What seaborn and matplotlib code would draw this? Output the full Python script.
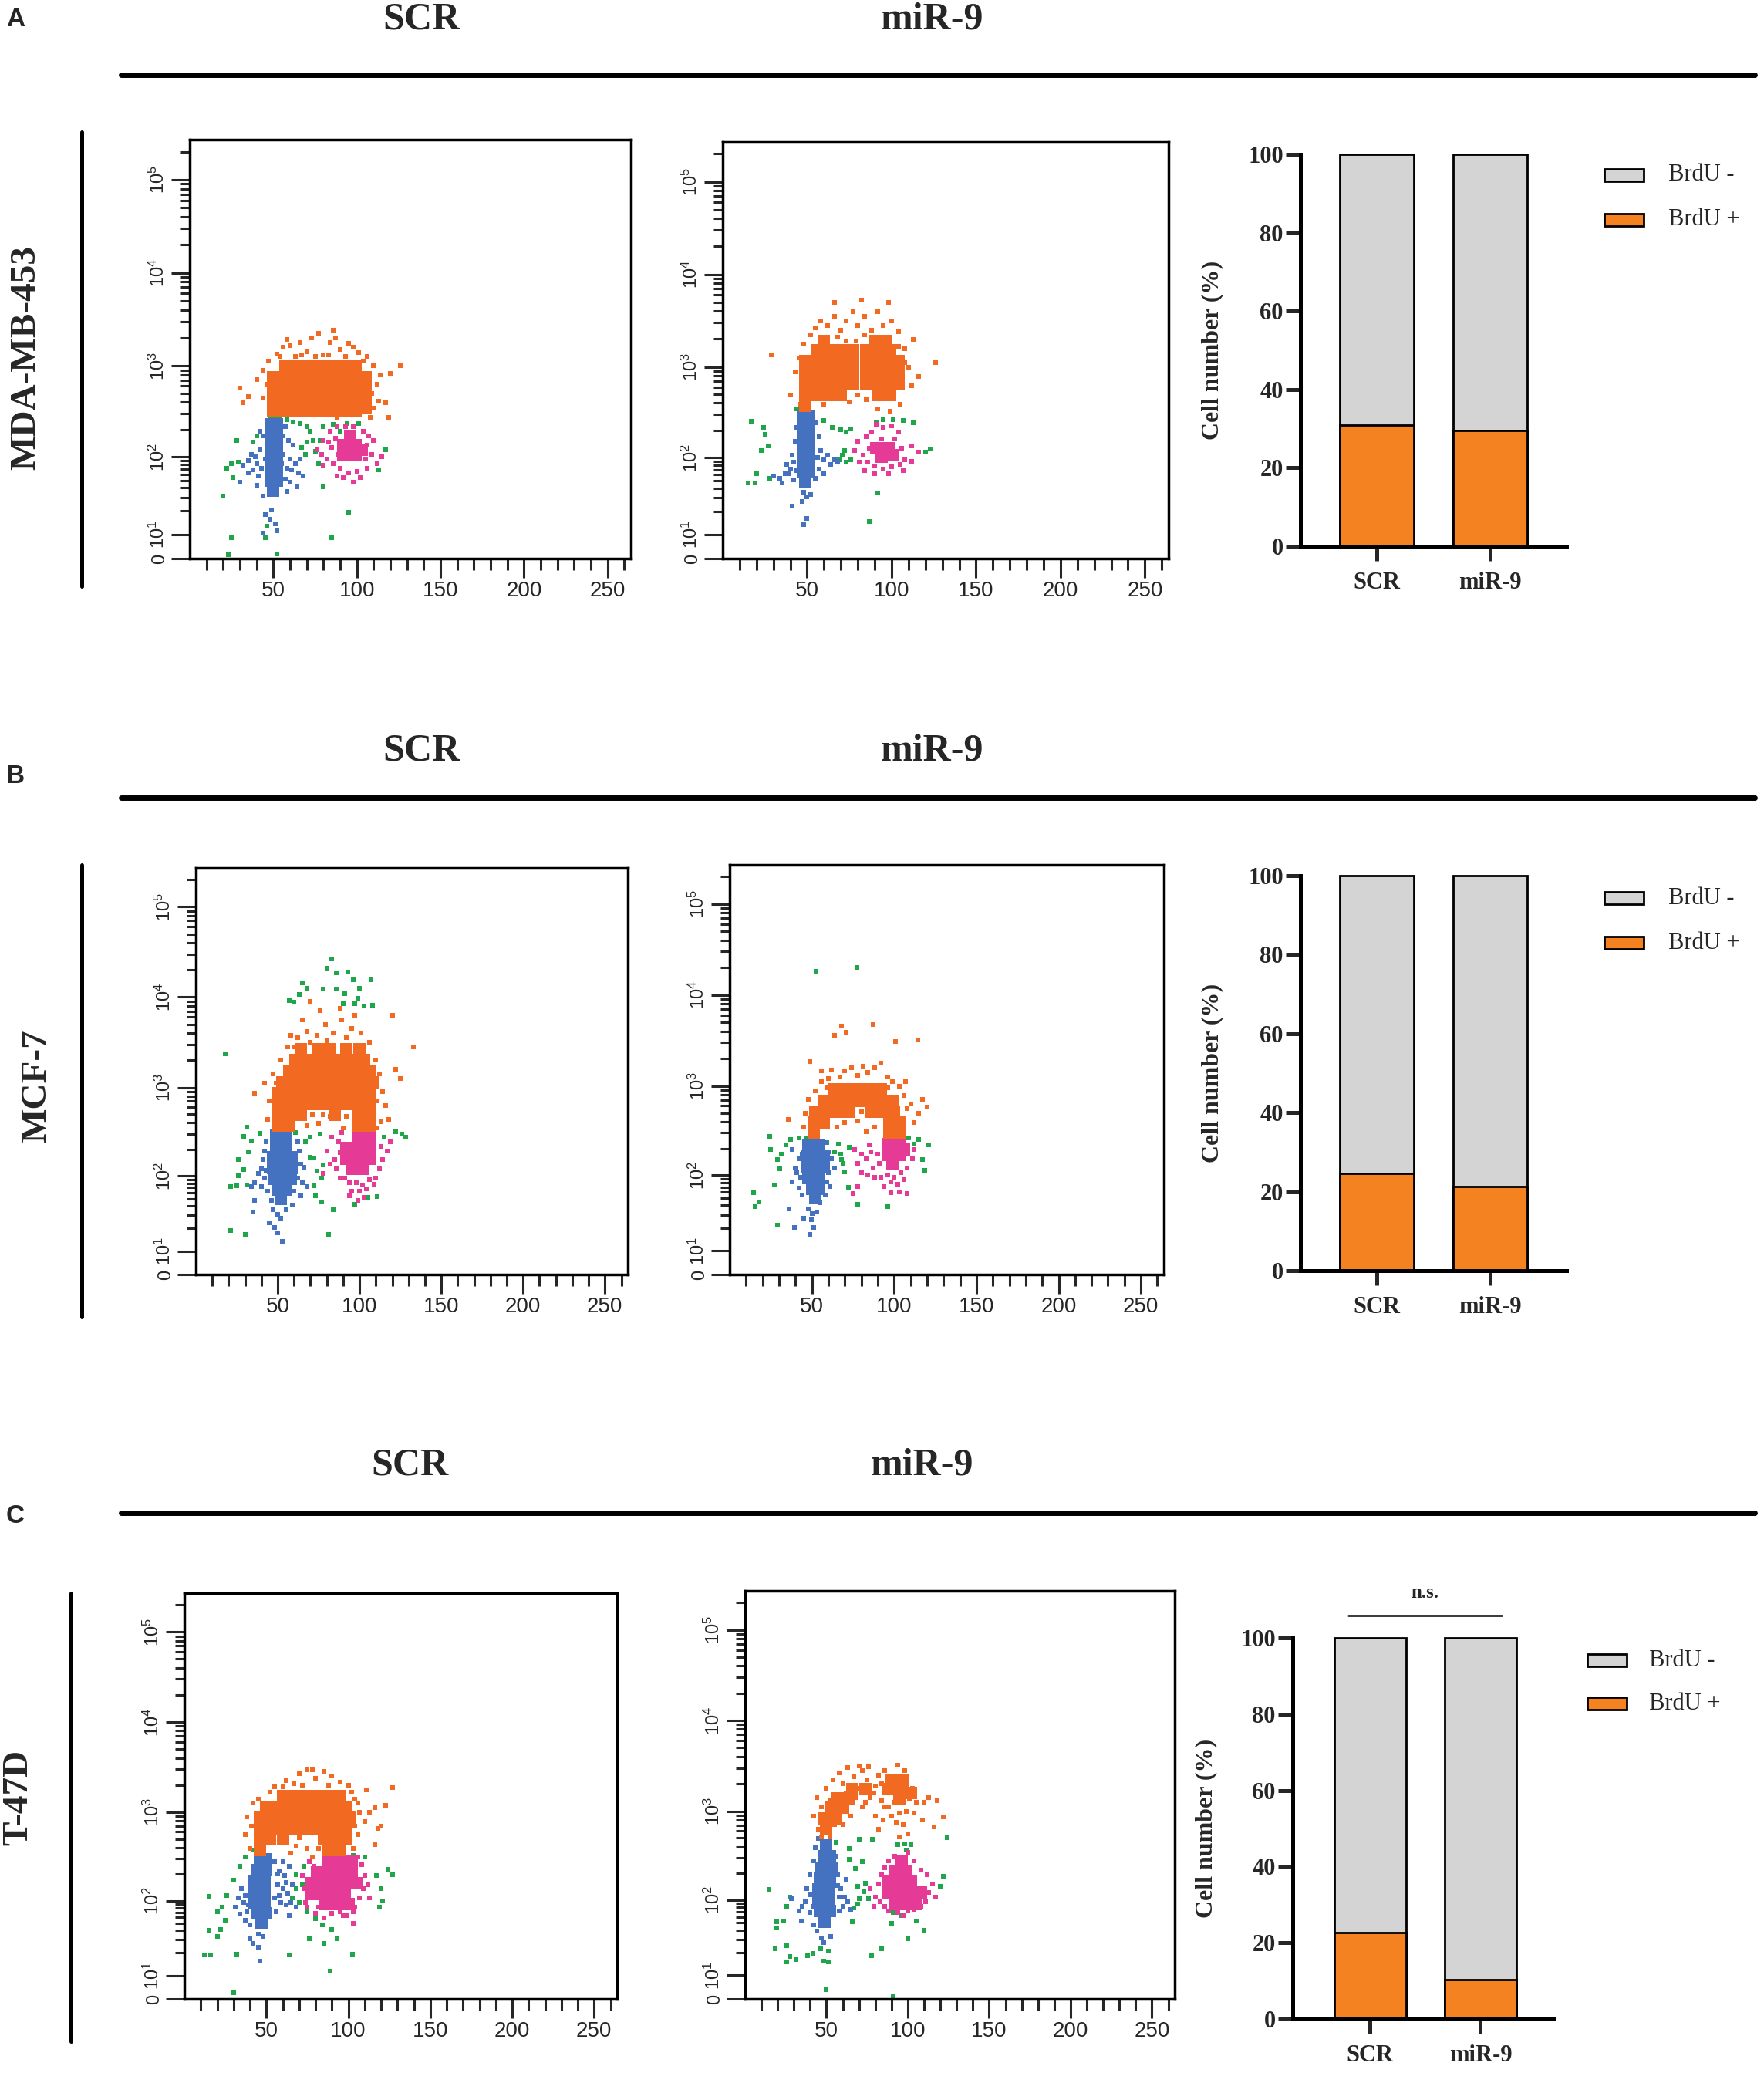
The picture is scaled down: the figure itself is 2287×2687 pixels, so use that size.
import numpy as np
import pandas as pd
import matplotlib
matplotlib.use("Agg")
import matplotlib.pyplot as plt
from matplotlib.lines import Line2D
from matplotlib.patches import Rectangle
import seaborn as sns

sns.set_style("white")
plt.rcParams['font.family'] = ['Liberation Sans', 'DejaVu Sans']
plt.rcParams['mathtext.default'] = 'regular'

# ---------------- data ----------------
# flow plots: x = FSC channel, y = BrdU position in decades on the plot axis
groups = ['SCR', 'miR-9']
brdu_pos_A = [30.9, 29.5]
brdu_pos_B = [24.7, 21.3]
brdu_pos_C = [22.7, 10.3]

# --- A, SCR ---
A_scr_orange_core = [
    (50, 2.52), (57, 2.52), (64, 2.52), (71, 2.52), (78, 2.52), (85, 2.52), (92, 2.52), (99, 2.52), (105, 2.55),
    (50, 2.64), (57, 2.64), (64, 2.64), (71, 2.64), (78, 2.64), (85, 2.64), (92, 2.64), (99, 2.64), (105, 2.64),
    (50, 2.76), (57, 2.76), (64, 2.76), (71, 2.76), (78, 2.76), (85, 2.76), (92, 2.76), (99, 2.76), (105, 2.76),
    (50, 2.88), (57, 2.88), (64, 2.88), (71, 2.88), (78, 2.88), (85, 2.88), (92, 2.88), (99, 2.88), (105, 2.88),
    (57, 3.0), (64, 3.0), (71, 3.0), (78, 3.0), (85, 3.0), (92, 3.0), (99, 3.0)]
A_scr_orange_halo = [
    (30, 2.76), (35, 2.67), (32, 2.6), (40, 2.85), (44, 2.65), (44, 2.95), (47, 3.05), (52, 3.13),
    (56, 3.2), (60, 3.22), (63, 3.1), (66, 3.25), (70, 3.15), (73, 3.3), (77, 3.35), (80, 3.12),
    (84, 3.25), (87, 3.3), (90, 3.18), (95, 3.24), (98, 3.2), (101, 3.14), (106, 3.1), (110, 3.0),
    (112, 2.8), (114, 2.9), (113, 2.62), (117, 2.6), (120, 2.92), (126, 3.0), (119, 2.45), (108, 2.45),
    (73, 2.58), (88, 2.45), (95, 2.5), (78, 2.55), (92, 2.58), (54, 3.1), (67, 3.12), (75, 3.1),
    (83, 3.12), (93, 3.1), (104, 3.05), (109, 2.7), (110, 2.55), (46, 2.8), (58, 3.28), (86, 3.38)]
A_scr_blue_core = [
    (49, 2.37), (52, 2.37), (49, 2.25), (52, 2.25), (49, 2.13), (52, 2.13), (49, 2.01), (52, 2.01),
    (49, 1.89), (52, 1.89), (49, 1.77), (52, 1.77), (50, 1.66)]
A_scr_blue_halo = [
    (35, 1.98), (37, 2.05), (40, 1.95), (42, 2.1), (38, 1.88), (41, 1.82), (35, 1.85), (32, 1.93),
    (42, 2.3), (44, 2.25), (40, 1.72), (30, 1.75), (44, 1.6), (57, 2.35), (59, 2.2), (62, 2.15),
    (60, 2.0), (63, 1.95), (66, 2.0), (58, 1.9), (65, 1.85), (68, 1.82), (60, 1.75), (64, 1.7),
    (58, 1.65), (45, 1.4), (48, 1.35), (51, 1.3), (49, 1.45), (44, 1.2), (52, 1.23), (56, 2.05),
    (57, 1.78), (39, 2.02), (43, 1.9), (56, 2.25), (61, 1.88), (45, 2.0), (55, 1.95)]
A_scr_green = [
    (48, 2.44), (50, 2.44), (52, 2.44), (54, 2.43), (58, 2.42), (62, 2.4), (66, 2.38), (70, 2.35),
    (72, 2.3), (74, 2.2), (70, 2.18), (67, 2.12), (69, 2.05), (75, 2.08), (78, 2.2), (80, 2.35),
    (86, 2.37), (90, 2.3), (94, 2.38), (101, 2.38), (42, 2.3), (40, 2.25), (38, 2.18), (28, 2.2),
    (25, 1.95), (22, 1.9), (29, 1.97), (20, 1.6), (26, 1.8), (117, 2.1), (113, 1.88), (77, 1.95),
    (80, 1.7), (95, 1.43), (85, 1.15), (25, 1.15), (45, 1.15), (52, 0.98), (23, 0.97), (46, 1.28)]
A_scr_pink_core = [(92, 2.15), (99, 2.15), (92, 2.04), (99, 2.04), (96, 2.25), (103, 2.1)]
A_scr_pink_halo = [
    (80, 2.2), (84, 2.3), (88, 2.35), (93, 2.35), (98, 2.35), (104, 2.3), (107, 2.25), (110, 2.2),
    (109, 2.05), (112, 1.95), (106, 1.9), (100, 1.87), (95, 1.85), (90, 1.9), (86, 1.95), (82, 2.0),
    (79, 2.05), (85, 2.12), (102, 1.8), (98, 1.75), (92, 1.8), (88, 1.82), (76, 2.1), (80, 1.93),
    (115, 2.02), (87, 2.22), (105, 2.0), (83, 2.18), (89, 2.05), (106, 2.15)]

# --- A, miR-9 ---
A_mir_orange_core = [
    (49, 2.58), (49, 2.7), (56, 2.7), (63, 2.7), (70, 2.7), (92, 2.7), (99, 2.7),
    (49, 2.82), (56, 2.82), (63, 2.82), (70, 2.82), (77, 2.82), (85, 2.82), (92, 2.82), (99, 2.82), (104, 2.82),
    (49, 2.94), (56, 2.94), (63, 2.94), (70, 2.94), (77, 2.94), (85, 2.94), (92, 2.94), (99, 2.94), (104, 2.94),
    (49, 3.06), (56, 3.06), (63, 3.06), (70, 3.06), (77, 3.06), (85, 3.06), (92, 3.06), (99, 3.06), (104, 3.06),
    (56, 3.18), (63, 3.18), (70, 3.18), (77, 3.18), (85, 3.18), (92, 3.18), (99, 3.18),
    (60, 3.28), (90, 3.28), (97, 3.28)]
A_mir_orange_halo = [
    (40, 2.7), (43, 2.95), (45, 3.1), (48, 3.25), (52, 3.35), (55, 3.42), (58, 3.5), (62, 3.45),
    (66, 3.55), (70, 3.4), (73, 3.5), (77, 3.6), (80, 3.45), (84, 3.55), (88, 3.4), (92, 3.6),
    (95, 3.45), (100, 3.5), (104, 3.38), (108, 3.2), (110, 3.0), (112, 2.8), (113, 3.3), (116, 2.9),
    (126, 3.05), (66, 3.7), (82, 3.72), (98, 3.7), (29, 3.13), (60, 2.6), (75, 2.62), (85, 2.65),
    (92, 2.55), (99, 2.52), (105, 2.6), (73, 3.28), (79, 3.28), (68, 3.32), (84, 3.35), (104, 3.22),
    (108, 3.05), (46, 2.6), (80, 2.7)]
A_mir_blue_core = [
    (47.5, 2.46), (51, 2.46), (47.5, 2.34), (51, 2.34), (47.5, 2.22), (51, 2.22), (47.5, 2.1), (51, 2.1),
    (47.5, 1.98), (51, 1.98), (47.5, 1.86), (51, 1.86), (49, 1.76)]
A_mir_blue_halo = [
    (34, 1.8), (37, 1.85), (40, 1.9), (42, 1.97), (38, 1.95), (41, 2.05), (43, 2.2), (44, 2.35),
    (30, 1.82), (35, 1.75), (42, 1.78), (55, 2.4), (57, 2.25), (58, 2.1), (60, 2.0), (62, 2.05),
    (64, 1.95), (66, 2.0), (68, 1.98), (57, 1.9), (55, 1.8), (60, 1.85), (48, 1.65), (50, 1.6),
    (47, 1.55), (52, 1.62), (41, 1.5), (50, 1.36), (48, 1.3), (39, 1.85), (44, 1.88), (56, 2.02)]
A_mir_green = [
    (17, 2.41), (25, 2.27), (24, 2.35), (27, 2.15), (23, 2.1), (20, 1.85), (28, 1.8), (19, 1.75),
    (44, 2.55), (47, 2.56), (50, 2.54), (60, 2.42), (65, 2.35), (70, 2.32), (73, 2.3), (76, 2.33),
    (72, 2.1), (71, 2.05), (69, 2.0), (73, 1.97), (76, 2.0), (91, 2.4), (95, 2.43), (101, 2.43),
    (107, 2.42), (113, 2.4), (120, 2.08), (123, 2.11), (92, 1.64), (87, 1.33), (15, 1.75)]
A_mir_pink_core = [(91, 2.12), (98, 2.12), (94, 2.03), (101, 2.05)]
A_mir_pink_halo = [
    (78, 2.1), (80, 2.2), (83, 2.05), (85, 2.25), (88, 2.3), (91, 2.38), (95, 2.35), (100, 2.36),
    (104, 2.3), (102, 2.22), (106, 2.12), (108, 2.0), (105, 1.95), (100, 1.92), (95, 1.9), (90, 1.93),
    (86, 1.97), (84, 1.88), (90, 1.85), (98, 1.85), (107, 1.88), (112, 2.15), (116, 2.08), (112, 1.98),
    (81, 1.97), (87, 2.12), (94, 2.22)]

# --- B, SCR ---
B_scr_orange_core = [
    (50, 2.58), (57, 2.58), (99, 2.58), (106, 2.58),
    (50, 2.7), (57, 2.7), (64, 2.7), (85, 2.7), (99, 2.7), (106, 2.7),
    (50, 2.82), (57, 2.82), (64, 2.82), (71, 2.82), (78, 2.82), (85, 2.82), (92, 2.82), (99, 2.82), (106, 2.82),
    (50, 2.94), (57, 2.94), (64, 2.94), (71, 2.94), (78, 2.94), (85, 2.94), (92, 2.94), (99, 2.94), (106, 2.94),
    (53, 3.06), (60, 3.06), (67, 3.06), (74, 3.06), (81, 3.06), (88, 3.06), (95, 3.06), (102, 3.06), (108, 3.06),
    (57, 3.18), (64, 3.18), (71, 3.18), (78, 3.18), (85, 3.18), (92, 3.18), (99, 3.18), (106, 3.18),
    (61, 3.3), (68, 3.3), (75, 3.3), (82, 3.3), (89, 3.3), (96, 3.3), (103, 3.3),
    (64, 3.42), (75, 3.42), (82, 3.42), (92, 3.42), (100, 3.42)]
B_scr_orange_halo = [
    (62, 3.55), (68, 3.62), (74, 3.58), (79, 3.7), (84, 3.6), (89, 3.75), (95, 3.65), (101, 3.6),
    (106, 3.5), (65, 3.75), (76, 3.85), (88, 3.88), (70, 3.95), (110, 3.3), (112, 3.15), (114, 2.95),
    (116, 2.8), (113, 2.62), (118, 2.65), (122, 3.2), (125, 3.1), (120, 3.8), (133, 3.45), (36, 2.94),
    (42, 3.05), (45, 2.85), (44, 2.65), (47, 3.15), (52, 3.3), (56, 3.45), (75, 2.6), (82, 2.68),
    (90, 2.55), (68, 2.58), (71, 2.7), (111, 2.55), (58, 3.58), (97, 3.8), (70, 3.5), (80, 3.52),
    (92, 3.55), (103, 3.45), (110, 3.1), (111, 2.85), (49, 3.05), (78, 2.7), (92, 2.68), (60, 3.45)]
B_scr_blue_core = [
    (49, 2.47), (55, 2.47), (49, 2.35), (55, 2.35), (47, 2.23), (53, 2.23), (59, 2.23),
    (47, 2.11), (53, 2.11), (59, 2.11), (48, 1.99), (54, 1.99), (58, 1.99), (50, 1.87), (55, 1.87), (52, 1.77)]
B_scr_blue_halo = [
    (42, 2.3), (40, 2.1), (38, 2.05), (42, 2.0), (36, 1.95), (40, 1.9), (44, 1.85), (34, 1.9),
    (46, 1.75), (47, 1.65), (50, 1.6), (55, 1.65), (52, 1.55), (45, 1.5), (48, 1.45), (50, 1.39),
    (53, 1.3), (63, 2.3), (64, 2.15), (66, 2.12), (62, 2.0), (65, 1.95), (68, 1.9), (60, 1.85),
    (64, 1.8), (59, 1.7), (35, 1.62), (43, 2.4), (36, 1.75), (41, 2.2), (43, 2.08), (62, 2.4)]
B_scr_green = [
    (83, 4.42), (80, 4.32), (86, 4.27), (93, 4.28), (96, 4.19), (100, 4.1), (107, 4.19), (65, 4.16),
    (68, 4.1), (78, 4.09), (86, 4.09), (91, 4.04), (99, 3.99), (63, 4.03), (57, 3.96), (60, 3.94),
    (90, 3.93), (97, 3.93), (108, 3.91), (103, 3.9), (18, 3.37), (31, 2.56), (29, 2.46), (34, 2.41),
    (39, 2.49), (32, 2.29), (26, 2.2), (29, 2.09), (26, 2.02), (21, 1.9), (25, 1.91), (31, 1.92),
    (21, 1.42), (30, 1.37), (61, 2.5), (67, 2.4), (70, 2.45), (70, 2.23), (72, 2.22), (76, 2.48),
    (78, 2.14), (74, 2.07), (77, 2.0), (72, 1.91), (73, 1.8), (77, 1.73), (84, 1.65), (81, 1.37),
    (115, 2.45), (122, 2.51), (126, 2.48), (128, 2.45), (97, 1.71), (105, 1.78), (111, 1.79)]
B_scr_pink_core = [
    (99, 2.45), (106, 2.45), (92, 2.33), (99, 2.33), (106, 2.33), (92, 2.21), (99, 2.21), (106, 2.21),
    (95, 2.1), (102, 2.1)]
B_scr_pink_halo = [
    (80, 2.3), (83, 2.45), (87, 2.4), (85, 2.2), (82, 2.15), (78, 2.05), (86, 2.1), (88, 2.0),
    (91, 2.0), (94, 1.95), (98, 1.95), (102, 1.92), (106, 1.98), (110, 2.0), (112, 2.1), (114, 2.2),
    (113, 2.35), (117, 2.3), (119, 2.4), (89, 2.5), (95, 1.85), (100, 1.85), (104, 1.88), (109, 1.93),
    (99, 1.75), (103, 1.78), (94, 1.8), (88, 2.28)]

# --- B, miR-9 ---
B_mir_orange_core = [
    (51, 2.48), (97, 2.48), (103, 2.48),
    (51, 2.6), (57, 2.6), (97, 2.6), (103, 2.6),
    (52, 2.72), (58, 2.72), (65, 2.72), (72, 2.72), (86, 2.72), (93, 2.72), (100, 2.72),
    (57, 2.84), (64, 2.84), (71, 2.84), (78, 2.84), (85, 2.84), (92, 2.84), (99, 2.84),
    (64, 2.96), (71, 2.96), (78, 2.96), (85, 2.96), (92, 2.96)]
B_mir_orange_halo = [
    (45, 2.55), (46, 2.7), (48, 2.85), (52, 2.95), (56, 3.05), (60, 3.08), (62, 3.18), (67, 3.1),
    (70, 3.17), (74, 3.2), (78, 3.12), (81, 3.22), (84, 3.15), (88, 3.2), (92, 3.25), (96, 3.1),
    (99, 3.05), (103, 3.0), (106, 2.9), (108, 2.75), (110, 2.8), (112, 2.6), (115, 2.7), (117, 2.85),
    (120, 2.77), (65, 2.55), (70, 2.6), (78, 2.62), (83, 2.5), (88, 2.55), (35.5, 2.63), (48.6, 3.27),
    (56, 3.17), (68, 3.66), (64, 3.56), (71, 3.59), (87, 3.68), (101, 3.49), (114.5, 3.51), (75, 2.7),
    (80, 2.72), (59, 2.98), (96, 2.98), (106, 2.62), (107, 3.05)]
B_mir_blue_core = [
    (48, 2.35), (54, 2.35), (47, 2.23), (53, 2.23), (57, 2.23), (47, 2.11), (53, 2.11), (57, 2.11),
    (48, 1.99), (54, 1.99), (50, 1.87), (54, 1.87), (52, 1.77)]
B_mir_blue_halo = [
    (42, 2.2), (40, 2.1), (43, 2.0), (38, 1.95), (42, 1.88), (44, 1.8), (38, 2.3), (46, 2.4),
    (58, 2.38), (60, 2.28), (62, 2.2), (64, 2.1), (60, 2.05), (59, 1.95), (61, 1.9), (58, 1.8),
    (48, 1.65), (50, 1.6), (53, 1.62), (49.5, 1.53), (51, 1.45), (45, 1.55), (36, 1.65), (39.6, 1.45),
    (49, 1.37), (55, 1.72), (41, 2.05), (44, 2.25)]
B_mir_green = [
    (24.4, 2.45), (25, 2.3), (34, 2.35), (37, 2.41), (42, 2.43), (47, 2.43), (31.5, 2.25), (29, 2.19),
    (30.6, 2.09), (27, 1.91), (14.5, 1.83), (18, 1.73), (15.4, 1.68), (29, 1.47), (52.7, 4.26), (77.6, 4.3),
    (59, 2.38), (63.8, 2.28), (67.4, 2.25), (68, 2.19), (69, 2.15), (66, 2.36), (72.8, 2.33), (70, 2.06),
    (72.4, 1.89), (78, 1.7), (96, 1.68), (103, 2.45), (108.6, 2.43), (112, 2.36), (115, 2.41), (121, 2.35),
    (117, 2.19), (118.5, 2.07)]
B_mir_pink_core = [(96, 2.36), (103, 2.36), (96, 2.24), (103, 2.24), (99, 2.14), (106, 2.3)]
B_mir_pink_halo = [
    (76, 2.3), (78, 2.15), (80, 2.25), (83, 2.2), (85, 2.35), (87, 2.1), (90, 2.25), (88, 2.0),
    (84, 2.02), (80, 2.05), (92, 2.0), (96, 2.02), (100, 2.0), (104, 2.05), (108, 2.1), (111, 2.2),
    (112, 2.3), (94, 1.9), (98, 1.95), (102, 1.92), (106, 1.97), (78, 1.9), (98, 1.83), (103, 1.84),
    (75, 1.82), (108, 1.82), (91, 2.15), (86, 2.28)]

# --- C, SCR ---
C_scr_orange_core = [
    (46, 2.58), (88, 2.58), (95, 2.58),
    (46, 2.7), (52, 2.7), (60, 2.7), (85, 2.7), (92, 2.7), (99, 2.7),
    (46, 2.82), (53, 2.82), (60, 2.82), (67, 2.82), (74, 2.82), (78, 2.82), (85, 2.82), (92, 2.82), (99, 2.82),
    (46, 2.94), (53, 2.94), (60, 2.94), (67, 2.94), (74, 2.94), (81, 2.94), (88, 2.94), (95, 2.94), (101, 2.94),
    (50, 3.06), (57, 3.06), (64, 3.06), (71, 3.06), (78, 3.06), (85, 3.06), (92, 3.06), (99, 3.06),
    (60, 3.18), (67, 3.18), (74, 3.18), (81, 3.18), (88, 3.18), (95, 3.18)]
C_scr_orange_halo = [
    (37, 2.75), (40, 2.6), (38, 2.95), (42, 3.1), (45, 3.15), (52, 3.22), (55, 3.28), (62, 3.35),
    (67, 3.32), (70, 3.43), (75, 3.47), (80, 3.38), (85, 3.45), (90, 3.4), (95, 3.33), (100, 3.3),
    (104, 3.15), (107, 3.0), (110, 2.9), (111, 3.25), (113, 3.0), (116, 3.05), (120, 2.85), (123, 3.08),
    (127, 3.27), (116, 2.64), (103, 2.6), (106, 2.75), (75, 2.6), (70, 2.72), (65, 2.55), (78, 2.5),
    (82, 2.6), (118, 2.82), (78, 3.47), (100, 2.5), (102, 3.22), (106, 3.1), (41, 2.85), (68, 2.62),
    (60, 3.28), (72, 3.3), (88, 3.3), (104, 2.85)]
C_scr_blue_core = [
    (46, 2.48), (50, 2.48), (44, 2.36), (50, 2.36), (43, 2.24), (49, 2.24), (43, 2.12), (49, 2.12),
    (43, 2.0), (49, 2.0), (44, 1.88), (50, 1.88), (47, 1.78)]
C_scr_blue_halo = [
    (55, 2.45), (58, 2.35), (61, 2.3), (64, 2.4), (57, 2.2), (60, 2.15), (63, 2.1), (66, 2.2),
    (59, 2.0), (62, 1.97), (65, 2.0), (68, 1.95), (56, 1.9), (64, 1.85), (35, 2.15), (33, 2.05),
    (36, 2.0), (31, 1.95), (38, 1.9), (34, 1.87), (37, 1.8), (40, 1.75), (45, 1.65), (48, 1.62),
    (42, 1.55), (45, 1.5), (40, 1.6), (46, 1.35), (60, 2.45), (55, 2.05), (57, 2.32), (62, 2.22),
    (58, 2.08), (37, 2.08), (39, 1.97)]
C_scr_green = [
    (30, 2.25), (34, 2.4), (37, 2.5), (42, 2.58), (20, 1.9), (23, 1.95), (26, 2.08), (25, 1.8),
    (22, 1.7), (15, 1.69), (20, 1.62), (12, 1.42), (16, 1.42), (31.8, 1.43), (30, 1.0), (64, 1.42),
    (70, 2.0), (68, 2.15), (68, 2.31), (72, 2.2), (66, 2.05), (73, 2.4), (75, 1.9), (80, 1.82),
    (84, 1.75), (90, 1.7), (93, 1.6), (85, 1.55), (76, 1.6), (102.7, 1.43), (89, 1.24), (103, 2.52),
    (110, 2.5), (117, 2.3), (120, 2.15), (124, 2.37), (127, 2.31), (121, 2.02), (119, 1.95), (15, 2.07)]
C_scr_pink_core = [
    (88, 2.45), (95, 2.45), (102, 2.45), (81, 2.33), (88, 2.33), (95, 2.33), (102, 2.33),
    (77, 2.21), (84, 2.21), (91, 2.21), (98, 2.21), (105, 2.21), (77, 2.09), (84, 2.09), (91, 2.09),
    (98, 2.09), (86, 1.98), (93, 1.98), (100, 1.98)]
C_scr_pink_halo = [
    (72, 2.3), (73, 2.15), (74, 2.0), (75, 1.95), (79, 2.4), (76, 2.45), (82, 1.95), (80, 1.88),
    (90, 1.88), (95, 1.9), (97, 1.85), (103, 1.9), (104, 1.95), (107, 2.05), (109, 2.15), (110, 2.3),
    (112, 2.2), (108, 2.42), (106, 2.5), (113, 2.05), (85, 1.83), (99, 1.85), (103, 1.77)]

# --- C, miR-9 ---
C_mir_orange_core = [
    (50, 2.8), (49, 2.92), (56, 2.92), (53, 3.04), (60, 3.04), (57, 3.14), (64, 3.14), (95, 3.14),
    (66, 3.24), (74, 3.24), (88, 3.24), (95, 3.24), (102, 3.2), (90, 3.34), (97, 3.34)]
C_mir_orange_halo = [
    (42, 2.95), (45, 2.8), (47, 2.72), (52, 2.72), (55, 2.85), (52, 3.12), (47, 3.05), (44, 3.15),
    (50, 3.25), (54, 3.35), (58, 3.42), (60, 3.3), (63, 3.48), (67, 3.38), (70, 3.25), (72, 3.45),
    (75, 3.35), (77, 3.15), (80, 3.28), (82, 3.4), (84, 3.12), (86, 3.45), (88, 3.05), (90, 2.95),
    (92, 3.1), (95, 2.98), (97, 2.85), (99, 3.0), (101, 3.13), (103, 3.25), (105, 3.1), (100, 2.75),
    (95, 2.72), (85, 2.9), (80, 2.95), (72, 3.05), (65, 2.95), (60, 2.85), (110, 3.1), (113, 3.15),
    (116, 2.83), (121.8, 2.94), (118, 3.12), (109, 2.9), (82, 2.8), (94, 3.51), (70, 3.5), (76, 3.49),
    (79, 3.2), (68, 3.15), (62, 3.2), (58, 2.95), (74, 3.1), (86, 3.05), (93, 2.88), (104, 2.98),
    (98, 3.45), (84, 3.3)]
C_mir_blue_core = [
    (50, 2.62), (49, 2.5), (52, 2.5), (47, 2.38), (53, 2.38), (46, 2.26), (52, 2.26), (45, 2.14),
    (51, 2.14), (45, 2.02), (51, 2.02), (46, 1.9), (52, 1.9), (49, 1.78)]
C_mir_blue_halo = [
    (42, 2.45), (40, 2.3), (38, 2.15), (37, 2.0), (35, 1.95), (33, 1.9), (34.5, 1.79), (40, 1.88),
    (28.6, 2.04), (42, 1.75), (44, 1.68), (47, 1.6), (52.4, 1.62), (48.4, 1.55), (57, 2.3), (59, 2.15),
    (61, 2.05), (63, 2.0), (60, 1.95), (58, 1.9), (65, 1.92), (62, 2.25), (43, 2.6), (45, 2.7),
    (56, 2.5), (58, 2.05), (40, 2.08), (42, 1.95), (57, 2.18)]
C_mir_green = [
    (14.7, 2.14), (27.6, 2.05), (25.6, 1.95), (23.6, 1.79), (19.6, 1.78), (19.6, 1.71), (25.6, 1.52),
    (18.6, 1.48), (27.6, 1.4), (25.6, 1.34), (31.5, 1.36), (38.5, 1.41), (41.5, 1.43), (46.4, 1.48),
    (51.4, 1.46), (48.4, 1.35), (51.4, 1.34), (50, 1.03), (91, 0.96), (77.8, 1.41), (84, 1.48),
    (69, 2.17), (70.2, 2.04), (69, 1.98), (73, 2.11), (74, 2.21), (76, 2.04), (67, 1.93), (68, 2.37),
    (72, 2.44), (64, 2.59), (56, 2.66), (70, 2.69), (78, 2.69), (94, 2.63), (98, 2.64), (102, 2.63),
    (99, 2.57), (91, 1.88), (96, 1.85), (90, 1.76), (105, 1.79), (110, 1.69), (100, 1.59), (120, 2.17),
    (122, 2.28), (124, 2.71), (66, 1.78), (64, 2.47)]
C_mir_pink_core = [
    (96, 2.45), (92, 2.34), (99, 2.34), (88, 2.22), (95, 2.22), (102, 2.22), (88, 2.1), (95, 2.1),
    (102, 2.1), (108, 2.1), (92, 1.98), (99, 1.98), (105, 1.98)]
C_mir_pink_halo = [
    (77, 2.15), (80, 2.05), (82, 2.2), (84, 2.3), (86, 2.38), (88, 2.45), (83, 2.0), (86, 1.95),
    (88, 1.9), (94, 1.88), (100, 1.9), (104, 1.92), (108, 1.95), (111, 2.0), (113, 2.1), (115, 2.2),
    (112, 2.3), (108, 2.35), (104, 2.45), (100, 2.55), (92, 2.5), (117, 2.05), (79, 1.95), (97, 1.85)]

# ---------------- styling ----------------
W, H = 2287, 2687
ORANGE = '#F26A21'
BLUE = '#4472C0'
PINK = '#E63A97'
GREEN = '#1FA64A'
BAR_ORANGE = '#F58220'
BAR_GREY = '#D4D4D4'
HALO_S = 13
CORE_S = 130
SERIF = ['Liberation Serif', 'DejaVu Serif']

fig = plt.figure(figsize=(W / 100, H / 100), dpi=100)


def px_rect(l, t, r, b):
    return [l / W, 1 - b / H, (r - l) / W, (b - t) / H]


# y axis of the flow plots: decade anchors (0, 10^1 ... 10^5)
dec_anchor = [0.93, 1.19, 2.02, 3.0, 4.0, 5.0]
dec_labels = ['0', '10$^{1}$', '10$^{2}$', '10$^{3}$', '10$^{4}$', '10$^{5}$']
dec_minor = []
for lo, hi in zip(dec_anchor[1:-1], dec_anchor[2:]):
    for k in range(2, 10):
        dec_minor.append(lo + (hi - lo) * np.log10(k))
dec_minor.append(5 + np.log10(2))


def flow_panel(rect, pops):
    ax = fig.add_axes(rect)
    for pts, color, size in pops:
        df = pd.DataFrame(pts, columns=['fsc', 'brdu'])
        sns.scatterplot(data=df, x='fsc', y='brdu', ax=ax, marker='s', s=size,
                        color=color, linewidth=0, legend=False)
    ax.set_xlim(0, 264)
    ax.set_ylim(0.93, 5.43)
    ax.set_xlabel('')
    ax.set_ylabel('')
    ax.set_xticks([50, 100, 150, 200, 250])
    ax.set_xticks([v for v in range(10, 270, 10) if v % 50], minor=True)
    ax.set_yticks(dec_anchor)
    ax.set_yticklabels(dec_labels, rotation=90, va='center')
    ax.set_yticks(dec_minor, minor=True)
    ax.tick_params(axis='x', which='major', direction='out', length=18, width=2.2,
                   labelsize=20, pad=3, bottom=True)
    ax.tick_params(axis='x', which='minor', direction='out', length=10.5, width=2.2, bottom=True)
    ax.tick_params(axis='y', which='major', direction='out', length=17, width=2.2,
                   labelsize=17, pad=3, left=True)
    ax.tick_params(axis='y', which='minor', direction='out', length=9, width=2.2, left=True)
    for sp in ax.spines.values():
        sp.set_linewidth(2.5)
        sp.set_color('black')
    return ax


def pops_for(green, blue_h, pink_h, orange_h, blue_c, pink_c, orange_c):
    return [(green, GREEN, HALO_S), (blue_h, BLUE, HALO_S), (pink_h, PINK, HALO_S),
            (orange_h, ORANGE, HALO_S), (blue_c, BLUE, CORE_S), (pink_c, PINK, CORE_S),
            (orange_c, ORANGE, CORE_S)]


def bar_panel(rect, pos_vals, xlim):
    ax = fig.add_axes(rect)
    df = pd.DataFrame({'group': groups, 'total': [100, 100], 'pos': pos_vals})
    sns.barplot(data=df, x='group', y='total', color=BAR_GREY, saturation=1, width=0.65,
                edgecolor='black', linewidth=2, errorbar=None, ax=ax)
    sns.barplot(data=df, x='group', y='pos', color=BAR_ORANGE, saturation=1, width=0.65,
                edgecolor='black', linewidth=2, errorbar=None, ax=ax)
    for p in ax.patches:
        p.set_clip_on(False)
    ax.set_xlim(*xlim)
    ax.set_ylim(0, 100)
    ax.set_xlabel('')
    ax.set_ylabel('Cell number (%)', fontsize=23, fontweight='bold', family=SERIF)
    ax.yaxis.set_label_coords(-0.29, 0.5)
    ax.set_yticks([0, 20, 40, 60, 80, 100])
    ax.spines['top'].set_visible(False)
    ax.spines['right'].set_visible(False)
    for s in ('left', 'bottom'):
        ax.spines[s].set_linewidth(3.6)
        ax.spines[s].set_color('black')
    ax.tick_params(axis='both', direction='out', length=14, width=3.6, labelsize=22,
                   left=True, bottom=True)
    ax.tick_params(axis='y', pad=2)
    ax.tick_params(axis='x', pad=10)
    for lbl in ax.get_xticklabels() + ax.get_yticklabels():
        lbl.set_fontfamily(SERIF)
        lbl.set_fontweight('bold')
    return ax


def legend_block(x0, y_rows, x_text):
    for (label, color), yc in zip([('BrdU -', BAR_GREY), ('BrdU +', BAR_ORANGE)], y_rows):
        fig.add_artist(Rectangle((x0 / W, 1 - (yc + 8) / H), 51 / W, 16 / H,
                                 transform=fig.transFigure, facecolor=color,
                                 edgecolor='black', linewidth=2))
        fig.text(x_text / W, 1 - yc / H, label, fontsize=22, family=SERIF,
                 ha='left', va='center')


def hline(y, x0=157, x1=2275):
    fig.add_artist(Line2D([x0 / W, x1 / W], [1 - y / H, 1 - y / H],
                          transform=fig.transFigure, color='black', linewidth=5))


def vline(x, y0, y1):
    fig.add_artist(Line2D([x / W, x / W], [1 - y0 / H, 1 - y1 / H],
                          transform=fig.transFigure, color='black', linewidth=3.6))


# ---------------- row A ----------------
flow_panel(px_rect(246, 181, 818, 724),
           pops_for(A_scr_green, A_scr_blue_halo, A_scr_pink_halo, A_scr_orange_halo,
                    A_scr_blue_core, A_scr_pink_core, A_scr_orange_core))
flow_panel(px_rect(937, 184, 1515, 724),
           pops_for(A_mir_green, A_mir_blue_halo, A_mir_pink_halo, A_mir_orange_halo,
                    A_mir_blue_core, A_mir_pink_core, A_mir_orange_core))
bar_panel(px_rect(1686, 200, 2031, 708), brdu_pos_A, (-0.67, 1.67))
legend_block(2080, [227, 285], 2163)

# ---------------- row B ----------------
flow_panel(px_rect(254, 1125, 814, 1652),
           pops_for(B_scr_green, B_scr_blue_halo, B_scr_pink_halo, B_scr_orange_halo,
                    B_scr_blue_core, B_scr_pink_core, B_scr_orange_core))
flow_panel(px_rect(946, 1121, 1509, 1652),
           pops_for(B_mir_green, B_mir_blue_halo, B_mir_pink_halo, B_mir_orange_halo,
                    B_mir_blue_core, B_mir_pink_core, B_mir_orange_core))
bar_panel(px_rect(1686, 1135, 2031, 1647), brdu_pos_B, (-0.67, 1.67))
legend_block(2080, [1164, 1222], 2163)

# ---------------- row C ----------------
flow_panel(px_rect(239, 2065, 800, 2591),
           pops_for(C_scr_green, C_scr_blue_halo, C_scr_pink_halo, C_scr_orange_halo,
                    C_scr_blue_core, C_scr_pink_core, C_scr_orange_core))
flow_panel(px_rect(966, 2062, 1523, 2591),
           pops_for(C_mir_green, C_mir_blue_halo, C_mir_pink_halo, C_mir_orange_halo,
                    C_mir_blue_core, C_mir_pink_core, C_mir_orange_core))
axC = bar_panel(px_rect(1676, 2123, 2014, 2617), brdu_pos_C, (-0.70, 1.66))
axC.plot([-0.2, 1.19], [105.9, 105.9], color='black', linewidth=1.8, clip_on=False)
axC.text(0.5, 109.5, 'n.s.', ha='center', va='bottom', fontsize=18, fontweight='bold',
         family=SERIF)
legend_block(2058, [2152, 2208], 2138)

# ---------------- frame text and rules ----------------
for letter, y in [('A', 26), ('B', 1007), ('C', 1966)]:
    fig.text(20 / W, 1 - y / H, letter, fontsize=24, fontweight='bold', ha='center', va='center')

for (x_scr, x_mir, base) in [(546, 1208, 38), (546, 1208, 985), (531, 1195, 1911)]:
    fig.text(x_scr / W, 1 - base / H, 'SCR', fontsize=36, fontweight='bold', family=SERIF,
             ha='center', va='baseline')
    fig.text(x_mir / W, 1 - base / H, 'miR-9', fontsize=36, fontweight='bold', family=SERIF,
             ha='center', va='baseline')

hline(97)
hline(1034)
hline(1961)
vline(106, 171, 760)
vline(106, 1121, 1707)
vline(92, 2065, 2646)

for label, x, y in [('MDA-MB-453', 34, 464), ('MCF-7', 48, 1408), ('T-47D', 24, 2330)]:
    fig.text(x / W, 1 - y / H, label, fontsize=34, fontweight='bold', family=SERIF,
             rotation=90, ha='center', va='center')

fig.savefig('out.png', dpi=100)
